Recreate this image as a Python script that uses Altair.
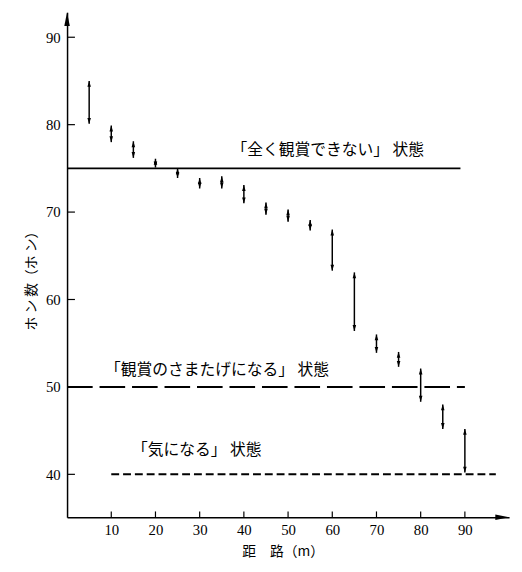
import altair as alt
import pandas as pd

# ---- data ----
distances = [5, 10, 15, 20, 25, 30, 35, 40, 45, 50, 55, 60, 65, 70, 75, 80, 85, 90]
phon_low = [80.1, 78.0, 76.2, 75.1, 73.9, 72.7, 72.7, 71.0, 69.7, 68.9, 67.9, 63.3,
            56.4, 53.9, 52.3, 48.3, 45.2, 40.2]
phon_high = [85.0, 79.9, 78.1, 76.1, 75.0, 73.9, 74.1, 73.1, 71.1, 70.3, 69.1, 68.0,
             63.1, 56.0, 54.0, 52.1, 48.0, 45.2]

levels = [75, 50, 40]
level_start = [0, 0, 10]
level_end = [89, 90, 97]
level_labels = ["「全く観賞できない」 状態", "「観賞のさまたげになる」 状態", "「気になる」 状態"]
label_x = [37.2, 8.6, 14.7]
label_y = [77.1, 51.9, 42.8]

x_ticks = [10, 20, 30, 40, 50, 60, 70, 80, 90]
y_ticks = [40, 50, 60, 70, 80, 90]
X_MIN, X_MAX = 0, 100
Y_MIN, Y_MAX = 35.08, 92.85

W, H = 449, 513
SERIF = "'Liberation Serif', 'DejaVu Serif', serif"
CJK = "'Noto Sans CJK JP', sans-serif"

xs = alt.Scale(domain=[X_MIN, X_MAX], nice=False, zero=False)
ys = alt.Scale(domain=[Y_MIN, Y_MAX], nice=False, zero=False)

x_axis = alt.Axis(values=x_ticks, title="距　路（m）", ticks=False, grid=False,
                  domainColor="black", domainWidth=1.5,
                  labelFont=SERIF, labelFontSize=15, labelColor="black", labelPadding=5,
                  titleFont=CJK, titleFontSize=14, titleFontWeight="normal", titleColor="black",
                  titleX=219, titleY=35, titleAlign="center", titleBaseline="middle")
y_axis = alt.Axis(values=y_ticks, title="ホ ン 数（ホ ン）", ticks=False, grid=False,
                  domainColor="black", domainWidth=1.5,
                  labelFont=SERIF, labelFontSize=15, labelColor="black", labelPadding=7,
                  titleFont=CJK, titleFontSize=14, titleFontWeight="normal", titleColor="black",
                  titleAngle=270, titleX=-36, titleY=269, titleAlign="center", titleBaseline="middle")


def X(f):
    return alt.X(f, type="quantitative", scale=xs, axis=x_axis)


def Y(f):
    return alt.Y(f, type="quantitative", scale=ys, axis=y_axis)


ranges = pd.DataFrame({"d": distances, "lo": phon_low, "hi": phon_high})

# threshold lines
dashes = [None, [26, 7], [8, 4]]
line_layers = []
for i in range(3):
    df = pd.DataFrame({"y": [levels[i]], "x0": [level_start[i]], "x1": [level_end[i]]})
    kw = dict(color="black", strokeWidth=2)
    if dashes[i] is not None:
        kw["strokeDash"] = dashes[i]
    line_layers.append(
        alt.Chart(df).mark_rule(**kw).encode(x=X("x0"), x2="x1", y=Y("y"))
    )

labels_df = pd.DataFrame({"t": level_labels, "x": label_x, "y": label_y})
label_layer = alt.Chart(labels_df).mark_text(
    align="left", baseline="middle", font=CJK, fontSize=16, color="black"
).encode(x=X("x"), y=Y("y"), text="t:N")

# double-headed arrows
shafts = alt.Chart(ranges).mark_rule(color="black", strokeWidth=1.5).encode(
    x=X("d"), y=Y("lo"), y2="hi")
up_heads = alt.Chart(ranges).mark_point(
    shape="M0,0L0.6,2L-0.6,2Z", filled=True, size=36, color="black", opacity=1, strokeWidth=0
).encode(x=X("d"), y=Y("hi"))
down_heads = alt.Chart(ranges).mark_point(
    shape="M0,0L0.6,-2L-0.6,-2Z", filled=True, size=36, color="black", opacity=1, strokeWidth=0
).encode(x=X("d"), y=Y("lo"))

# inward ticks
yt = alt.Chart(pd.DataFrame({"v": y_ticks})).mark_rule(color="black", strokeWidth=1.2).encode(
    y=Y("v"), x=alt.value(0), x2=alt.value(8))
xt = alt.Chart(pd.DataFrame({"v": x_ticks})).mark_rule(color="black", strokeWidth=1.2).encode(
    x=X("v"), y=alt.value(H), y2=alt.value(H - 6))

# axis arrowheads
top_arrow = alt.Chart(pd.DataFrame({"x": [X_MIN], "y": [Y_MAX]})).mark_point(
    shape="M0,0L0.4,2L-0.4,2Z", filled=True, size=196, color="black", opacity=1, strokeWidth=0
).encode(x=X("x"), y=Y("y"))
right_arrow = alt.Chart(pd.DataFrame({"x": [X_MAX], "y": [Y_MIN]})).mark_point(
    shape="M0,0L-2,0.4L-2,-0.4Z", filled=True, size=196, color="black", opacity=1, strokeWidth=0
).encode(x=X("x"), y=Y("y"))

chart = alt.layer(
    *line_layers, label_layer, shafts, up_heads, down_heads, yt, xt, top_arrow, right_arrow
).properties(
    width=W, height=H,
    autosize=alt.AutoSizeParams(type="none"),
    padding={"left": 60, "top": 0, "right": 5, "bottom": 43},
    background="white",
).configure_view(stroke=None)

chart.save("out.html", embed_options={"renderer": "svg", "actions": False})
